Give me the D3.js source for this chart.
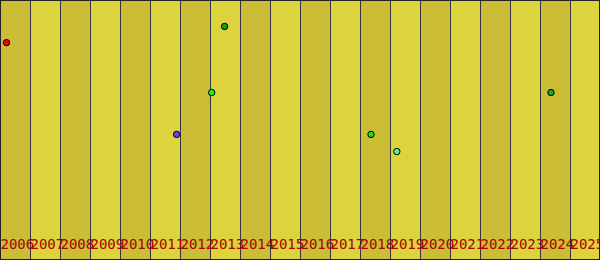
<!DOCTYPE html>
<html>
<head>
<meta charset="utf-8">
<script src="https://cdn.jsdelivr.net/npm/d3@7"></script>
<style>
  body { margin: 0; background: #fff; }
  svg { display: block; }
</style>
</head>
<body>
<div id="chart"></div>
<script>
// years shown as columns
var years = [2006, 2007, 2008, 2009, 2010, 2011, 2012, 2013, 2014, 2015,
             2016, 2017, 2018, 2019, 2020, 2021, 2022, 2023, 2024, 2025];

// points: decimal year, value, colour
var pointDates = [2006.2, 2011.87, 2013.04, 2013.47, 2018.35, 2019.21, 2024.35];
var pointValues = [83.8, 48.5, 64.6, 90.0, 48.5, 41.9, 64.6];
var pointColors = ["#ff0000", "#6644ee", "#22ee22", "#139f1c", "#22dd22", "#66ee88", "#11aa22"];

var width = 600,
    height = 260;

var svg = d3.select("#chart")
    .append("svg")
    .attr("width", width)
    .attr("height", height);

var x = d3.scaleLinear()
    .domain([2006, 2026])
    .range([0, width]);

var y = d3.scaleLinear()
    .domain([0, 100])
    .range([height, 0]);

// stripes
svg.append("g")
    .selectAll("rect")
    .data(years)
    .enter()
    .append("rect")
    .attr("x", d => x(d))
    .attr("y", 0)
    .attr("width", d => x(d + 1) - x(d))
    .attr("height", height)
    .attr("fill", d => d % 2 == 0 ? "#cbbd35" : "#ddd33d");

// year separators
svg.append("g")
    .selectAll("line")
    .data(years.slice(1))
    .enter()
    .append("line")
    .attr("x1", d => x(d) + 0.5)
    .attr("x2", d => x(d) + 0.5)
    .attr("y1", 0)
    .attr("y2", height)
    .attr("stroke", "#333344")
    .attr("stroke-width", 1);

// labels along the bottom
var xAxis = svg.append("g")
    .attr("transform", "translate(0,249)")
    .call(d3.axisBottom(x).tickValues(years).tickFormat(d3.format("d")).tickSize(0).tickPadding(0));
xAxis.select(".domain").remove();
xAxis.selectAll("text")
    .attr("y", 0)
    .attr("dy", 0)
    .attr("text-anchor", "start")
    .attr("fill", "#aa0000")
    .style("font-family", "'DejaVu Sans Mono', monospace")
    .style("font-size", "14px");

// points
svg.append("g")
    .selectAll("circle")
    .data(pointDates)
    .enter()
    .append("circle")
    .attr("cx", d => x(d) + 0.5)
    .attr("cy", (d, i) => y(pointValues[i]) + 0.5)
    .attr("r", 3.2)
    .attr("fill", (d, i) => pointColors[i])
    .attr("stroke", "#000")
    .attr("stroke-width", 1);

// frame
svg.append("rect")
    .attr("x", 0.5)
    .attr("y", 0.5)
    .attr("width", width - 1)
    .attr("height", height - 1)
    .attr("fill", "none")
    .attr("stroke", "#222");
</script>
</body>
</html>
